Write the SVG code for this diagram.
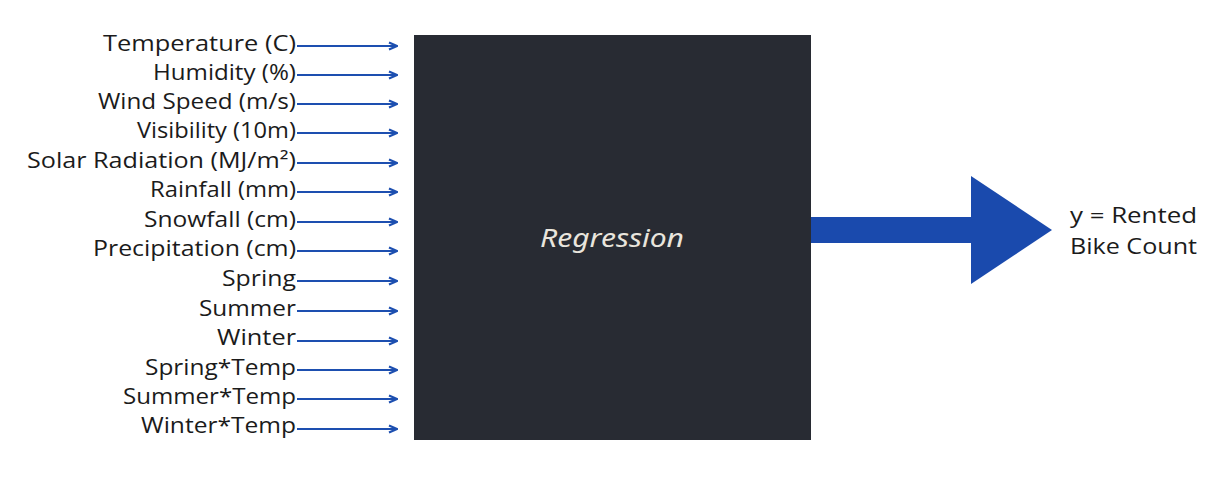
<svg xmlns="http://www.w3.org/2000/svg" width="1225" height="485" viewBox="0 0 1225 485">
<style>
.lbl{font-family:"Open Sans","Liberation Sans",sans-serif;font-size:21.5px;fill:#1b1b1b;text-anchor:end}
.out{font-family:"Open Sans","Liberation Sans",sans-serif;font-size:21.5px;fill:#1b1b1b}
.reg{font-family:"Noto Sans","Open Sans",sans-serif;font-style:italic;font-size:26px;fill:#e9e5dd;text-anchor:middle}
.in{stroke:#1d4fb0;stroke-width:2;fill:none;marker-end:url(#ah)}
</style>
<defs>
<marker id="ah" viewBox="0 0 10 10" refX="9" refY="5" markerWidth="10" markerHeight="10" markerUnits="userSpaceOnUse" orient="auto">
<path d="M1,1.5 L9,5 L1,8.5" fill="none" stroke="#1d4fb0" stroke-width="2.2"/>
</marker>
</defs>
<rect width="1225" height="485" fill="#ffffff"/>
<g id="inputs">
<g id="n-temp"><text class="lbl" x="296" y="51" textLength="193" lengthAdjust="spacingAndGlyphs">Temperature (C)</text></g>
<g id="n-hum"><text class="lbl" x="296" y="80" textLength="143" lengthAdjust="spacingAndGlyphs">Humidity (%)</text></g>
<g id="n-wind"><text class="lbl" x="296" y="109" textLength="198" lengthAdjust="spacingAndGlyphs">Wind Speed (m/s)</text></g>
<g id="n-vis"><text class="lbl" x="296" y="138" textLength="159" lengthAdjust="spacingAndGlyphs">Visibility (10m)</text></g>
<g id="n-solar"><text class="lbl" x="296" y="168" textLength="269" lengthAdjust="spacingAndGlyphs">Solar Radiation (MJ/m²)</text></g>
<g id="n-rain"><text class="lbl" x="296" y="197" textLength="146" lengthAdjust="spacingAndGlyphs">Rainfall (mm)</text></g>
<g id="n-snow"><text class="lbl" x="296" y="227" textLength="152" lengthAdjust="spacingAndGlyphs">Snowfall (cm)</text></g>
<g id="n-prec"><text class="lbl" x="296" y="256" textLength="203" lengthAdjust="spacingAndGlyphs">Precipitation (cm)</text></g>
<g id="n-spring"><text class="lbl" x="296" y="286" textLength="74" lengthAdjust="spacingAndGlyphs">Spring</text></g>
<g id="n-summer"><text class="lbl" x="296" y="316" textLength="97" lengthAdjust="spacingAndGlyphs">Summer</text></g>
<g id="n-winter"><text class="lbl" x="296" y="345" textLength="79" lengthAdjust="spacingAndGlyphs">Winter</text></g>
<g id="n-springt"><text class="lbl" x="296" y="375" textLength="151" lengthAdjust="spacingAndGlyphs">Spring*Temp</text></g>
<g id="n-summert"><text class="lbl" x="296" y="404" textLength="173" lengthAdjust="spacingAndGlyphs">Summer*Temp</text></g>
<g id="n-wintert"><text class="lbl" x="296" y="433" textLength="155" lengthAdjust="spacingAndGlyphs">Winter*Temp</text></g>
</g>
<g id="regression">
<rect x="414" y="35" width="397" height="405" fill="#282b33"/>
<text class="reg" x="612" y="247" textLength="144" lengthAdjust="spacingAndGlyphs">Regression</text>
</g>
<g id="output">
<text class="out" x="1070" y="223" textLength="127" lengthAdjust="spacingAndGlyphs">y = Rented</text>
<text class="out" x="1070" y="254" textLength="127" lengthAdjust="spacingAndGlyphs">Bike Count</text>
</g>
<g id="connectors">
<line class="in" x1="297" y1="46" x2="397" y2="46"/>
<line class="in" x1="297" y1="75" x2="397" y2="75"/>
<line class="in" x1="297" y1="104" x2="397" y2="104"/>
<line class="in" x1="297" y1="133" x2="397" y2="133"/>
<line class="in" x1="297" y1="163" x2="397" y2="163"/>
<line class="in" x1="297" y1="192" x2="397" y2="192"/>
<line class="in" x1="297" y1="222" x2="397" y2="222"/>
<line class="in" x1="297" y1="251" x2="397" y2="251"/>
<line class="in" x1="297" y1="281" x2="397" y2="281"/>
<line class="in" x1="297" y1="311" x2="397" y2="311"/>
<line class="in" x1="297" y1="341" x2="397" y2="341"/>
<line class="in" x1="297" y1="370" x2="397" y2="370"/>
<line class="in" x1="297" y1="399" x2="397" y2="399"/>
<line class="in" x1="297" y1="429" x2="397" y2="429"/>
<polygon points="811,217 971,217 971,176 1052,230 971,284 971,243 811,243" fill="#1a4aad"/>
</g>
</svg>
